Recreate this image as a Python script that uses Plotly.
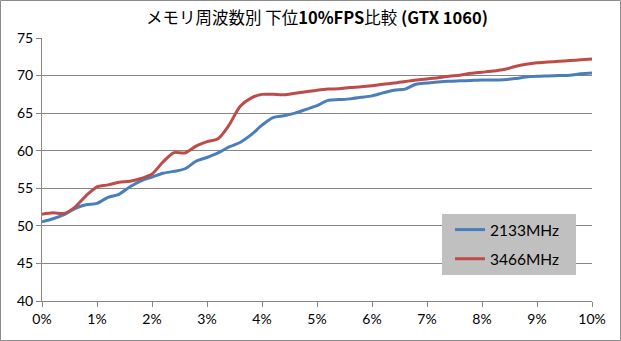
import plotly.graph_objects as go

# Percentile position (lowest 0-10% of frames), in percent
pct = [round(i * 0.2, 1) for i in range(51)]

fps_2133 = [
    50.55, 50.95, 51.5, 52.3, 52.8, 53.0, 53.8, 54.2, 55.2, 56.0,
    56.5, 57.0, 57.25, 57.6, 58.6, 59.1, 59.7, 60.5, 61.1, 62.1,
    63.4, 64.4, 64.65, 65.0, 65.5, 66.0, 66.7, 66.8, 66.9, 67.1,
    67.3, 67.7, 68.05, 68.2, 68.85, 69.0, 69.15, 69.25, 69.3, 69.35,
    69.4, 69.4, 69.45, 69.6, 69.8, 69.9, 69.95, 70.0, 70.05, 70.25,
    70.35,
]

fps_3466 = [
    51.55, 51.75, 51.65, 52.5, 54.0, 55.2, 55.45, 55.8, 55.95, 56.3,
    56.9, 58.5, 59.75, 59.7, 60.6, 61.2, 61.6, 63.4, 65.9, 67.0,
    67.5, 67.5, 67.45, 67.65, 67.85, 68.05, 68.2, 68.25, 68.4, 68.5,
    68.65, 68.85, 69.0, 69.2, 69.4, 69.55, 69.7, 69.9, 70.05, 70.3,
    70.45, 70.6, 70.8, 71.2, 71.5, 71.7, 71.8, 71.9, 72.0, 72.1,
    72.2,
]

x_ticks = list(range(0, 11))
x_labels = [f"{v}%" for v in x_ticks]
y_ticks = list(range(40, 80, 5))

W, H = 621, 341
ML, MR, MT, MB = 42, 29, 38, 40
PW, PH = W - ML - MR, H - MT - MB


def px_x(p):
    return (p - ML) / PW


def px_y(p):
    return (H - MB - p) / PH


fig = go.Figure()
fig.add_trace(go.Scatter(
    x=pct, y=fps_2133, mode="lines", name="2133MHz", legendgroup="a",
    line=dict(color="#4a7ebb", width=3, shape="spline", smoothing=0.8),
))
fig.add_trace(go.Scatter(
    x=pct, y=fps_3466, mode="lines", name="3466MHz", legendgroup="b",
    line=dict(color="#be4b48", width=3, shape="spline", smoothing=0.8),
))

axis_color = "#868686"
fig.update_xaxes(
    range=[0, 10], tickvals=x_ticks, ticktext=x_labels,
    showgrid=False, zeroline=False,
    showline=True, linecolor=axis_color, linewidth=1,
    ticks="outside", ticklen=5, tickcolor=axis_color,
    tickfont=dict(family="Lato, Carlito, sans-serif", size=14, color="#000"),
)
fig.update_yaxes(
    range=[40, 75], tickvals=y_ticks,
    showgrid=True, gridcolor=axis_color, gridwidth=1, zeroline=False,
    showline=True, linecolor=axis_color, linewidth=1,
    ticks="outside", ticklen=5, tickcolor=axis_color,
    tickfont=dict(family="Lato, Carlito, sans-serif", size=14, color="#000"),
)

# outer chart border
fig.add_shape(
    type="rect", xref="paper", yref="paper",
    x0=px_x(0.5), x1=px_x(W - 0.5),
    y0=px_y(H - 0.5), y1=px_y(0.5),
    line=dict(color="#8c8c8c", width=1), layer="below",
)

# grey panel behind the legend (covers the gridlines)
fig.add_shape(
    type="rect", xref="paper", yref="paper",
    x0=px_x(442), x1=px_x(576),
    y0=px_y(275), y1=px_y(214),
    fillcolor="#c0c0c0", line=dict(width=0), layer="above",
)

fig.update_layout(
    width=W, height=H,
    margin=dict(l=ML, r=MR, t=MT, b=MB),
    paper_bgcolor="white", plot_bgcolor="white",
    title=dict(
        text="メモリ周波数別 下位<b>10%FPS</b>比較 <b>(GTX 1060)</b>",
        x=0.5, xref="paper", xanchor="center",
        y=1 - 18 / H, yanchor="middle",
        font=dict(family="Noto Sans CJK JP, Lato, sans-serif", size=16.5, color="#000"),
    ),
    legend=dict(
        x=px_x(450), xanchor="left",
        y=px_y(213), yanchor="top",
        bgcolor="rgba(0,0,0,0)", borderwidth=0,
        tracegroupgap=6, traceorder="grouped",
        font=dict(family="Lato, Carlito, sans-serif", size=15.5, color="#000"),
        itemwidth=30,
    ),
    showlegend=True,
)

fig.write_html("out.html")
